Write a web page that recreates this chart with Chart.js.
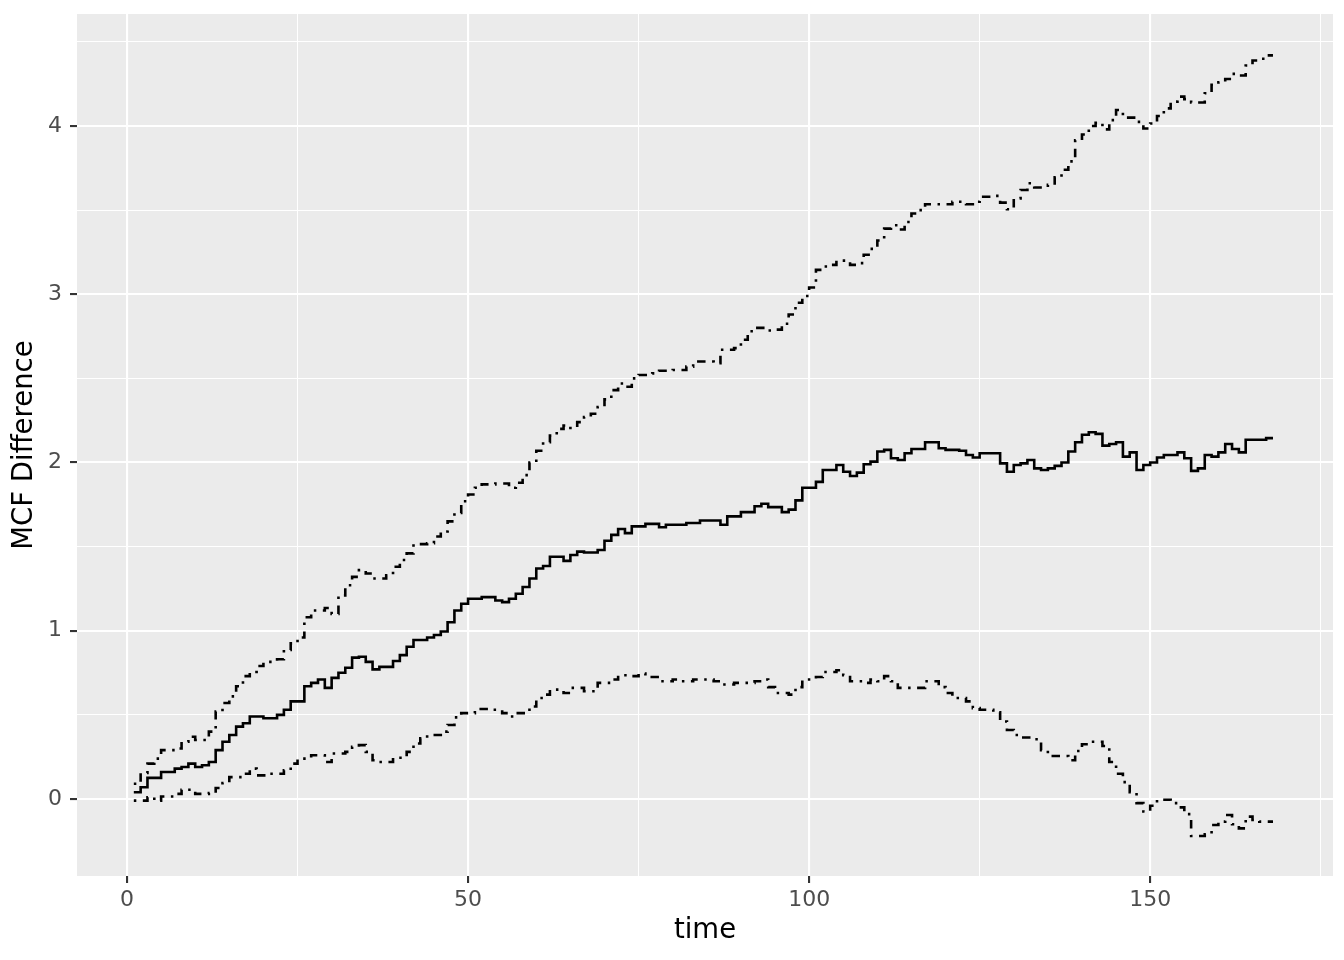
<!DOCTYPE html>
<html>
<head>
<meta charset="utf-8">
<script src="https://cdn.jsdelivr.net/npm/chart.js@4.4.1/dist/chart.umd.min.js"></script>
<style>
  html, body { margin: 0; padding: 0; background: #ffffff; }
  #wrap { width: 1344px; height: 960px; }
</style>
</head>
<body>
<div id="wrap"><canvas id="mcf"></canvas></div>
<script>
// MCF difference (centre estimate), step times and values
var centreTime = [1,2,3,5,7,8,9,10,11,12,13,14,15,16,17,18,20,22,23,24,
    26,27,28,29,30,31,32,33,34,35,36,37,39,40,41,42,44,45,46,47,
    48,49,50,52,54,55,56,57,58,59,60,61,62,64,65,66,67,69,70,71,
    72,73,74,76,78,79,82,84,87,88,90,92,93,94,96,97,98,99,101,102,
    104,105,106,107,108,109,110,111,112,113,114,115,117,119,120,122,123,124,125,128,
    129,130,131,132,133,134,135,136,137,138,139,140,141,142,143,144,145,146,147,148,
    149,150,151,152,154,155,156,157,158,159,160,161,162,163,164,167,168];
var centreValue = [0.04,0.07,0.125,0.16,0.18,0.19,0.21,0.19,0.20,0.22,0.29,0.34,0.38,0.43,0.45,0.49,0.48,0.50,0.53,0.58,
    0.67,0.69,0.71,0.66,0.72,0.75,0.78,0.84,0.845,0.815,0.77,0.785,0.82,0.855,0.905,0.945,0.96,0.975,0.995,1.05,
    1.12,1.16,1.19,1.20,1.18,1.17,1.19,1.22,1.26,1.31,1.37,1.385,1.44,1.415,1.45,1.47,1.465,1.48,1.535,1.57,
    1.605,1.58,1.62,1.635,1.615,1.63,1.64,1.655,1.63,1.68,1.705,1.74,1.755,1.735,1.705,1.72,1.775,1.85,1.885,1.955,
    1.985,1.945,1.92,1.94,1.99,2.005,2.065,2.075,2.025,2.015,2.055,2.08,2.12,2.085,2.075,2.07,2.045,2.03,2.055,1.995,
    1.945,1.985,1.995,2.015,1.965,1.955,1.965,1.98,2.0,2.065,2.12,2.165,2.18,2.17,2.10,2.11,2.12,2.035,2.06,1.955,
    1.985,2.0,2.03,2.045,2.06,2.025,1.95,1.965,2.045,2.035,2.06,2.11,2.08,2.06,2.135,2.145,2.145];

// upper confidence limit
var upperTime = [1,2,3,4,5,7,8,9,10,12,13,14,15,16,17,18,19,20,22,23,
    24,25,26,27,29,30,31,32,33,34,35,36,38,39,40,41,42,44,45,46,
    47,48,49,50,51,52,54,56,57,58,59,60,61,62,63,64,65,66,67,68,
    69,70,71,72,73,74,75,77,78,80,82,83,86,87,89,90,91,92,94,95,
    96,97,98,99,100,101,102,103,104,106,107,108,109,110,111,112,113,114,115,116,
    117,121,123,124,125,127,128,129,130,131,132,133,135,136,137,138,139,140,141,142,
    143,144,145,146,148,149,150,151,152,153,154,155,156,158,159,160,161,162,163,164,
    165,166,167,168];
var upperValue = [0.09,0.155,0.21,0.24,0.29,0.30,0.34,0.37,0.35,0.40,0.52,0.57,0.61,0.67,0.73,0.755,0.79,0.815,0.83,0.885,
    0.925,0.96,1.08,1.12,1.135,1.10,1.21,1.27,1.32,1.36,1.34,1.31,1.33,1.38,1.42,1.46,1.515,1.52,1.56,1.59,
    1.65,1.70,1.77,1.81,1.85,1.87,1.875,1.85,1.88,1.925,2.0,2.07,2.12,2.16,2.2,2.22,2.205,2.24,2.27,2.29,
    2.33,2.375,2.43,2.47,2.45,2.50,2.52,2.53,2.545,2.55,2.57,2.60,2.59,2.67,2.68,2.73,2.78,2.80,2.785,2.79,
    2.825,2.88,2.95,2.99,3.04,3.145,3.165,3.175,3.20,3.175,3.185,3.235,3.27,3.32,3.39,3.41,3.385,3.43,3.48,3.50,
    3.535,3.55,3.535,3.55,3.58,3.585,3.545,3.505,3.57,3.62,3.66,3.635,3.65,3.695,3.74,3.79,3.915,3.95,4.0,4.02,
    3.98,4.035,4.095,4.05,4.025,3.985,4.015,4.06,4.105,4.145,4.175,4.16,4.14,4.195,4.245,4.26,4.28,4.31,4.30,4.36,
    4.39,4.40,4.42,4.42];

// lower confidence limit
var lowerTime = [1,3,4,5,7,8,10,12,13,14,15,17,18,19,21,23,24,25,27,29,
    30,32,33,34,35,36,37,39,41,42,43,44,46,47,48,49,51,53,55,56,
    57,59,60,61,62,64,65,67,69,71,72,74,75,76,78,80,81,83,86,87,
    89,92,93,94,95,97,98,99,101,102,104,105,106,108,109,110,111,112,113,117,
    119,120,121,123,124,125,127,128,129,130,131,133,134,135,138,139,140,141,143,144,
    145,146,147,148,149,150,151,153,154,155,156,158,159,160,161,162,163,164,165,166,
    168];
var lowerValue = [-0.01,0.01,-0.01,0.015,0.03,0.055,0.03,0.035,0.065,0.095,0.13,0.15,0.18,0.14,0.15,0.17,0.21,0.24,0.26,0.22,
    0.27,0.28,0.31,0.32,0.28,0.23,0.22,0.245,0.28,0.33,0.36,0.38,0.40,0.44,0.485,0.51,0.535,0.53,0.51,0.49,
    0.51,0.55,0.60,0.62,0.65,0.63,0.66,0.64,0.69,0.71,0.735,0.73,0.745,0.725,0.70,0.71,0.70,0.71,0.70,0.68,
    0.69,0.70,0.71,0.665,0.63,0.62,0.665,0.71,0.725,0.755,0.765,0.735,0.70,0.69,0.71,0.70,0.73,0.70,0.66,0.70,
    0.665,0.63,0.60,0.58,0.54,0.53,0.515,0.46,0.41,0.38,0.365,0.355,0.29,0.255,0.23,0.285,0.325,0.34,0.315,0.22,
    0.15,0.10,0.04,-0.025,-0.075,-0.04,-0.005,-0.025,-0.05,-0.09,-0.22,-0.21,-0.155,-0.135,-0.095,-0.15,-0.175,-0.105,-0.125,-0.135,
    -0.135];

var xTicksMajor = [0, 50, 100, 150];
var yTicksMajor = [0, 1, 2, 3, 4];

function toPoints(xs, ys) {
    var pts = [];
    for (var i = 0; i < xs.length; i++) pts.push({x: xs[i], y: ys[i]});
    return pts;
}

var dotDash = [2.5, 6.5, 8.5, 6.5];

var panelBackground = {
    id: 'panelBackground',
    beforeDraw: function(chart) {
        var a = chart.chartArea;
        var ctx = chart.ctx;
        ctx.save();
        ctx.fillStyle = '#EBEBEB';
        ctx.fillRect(a.left, a.top, a.right - a.left, a.bottom - a.top);
        ctx.restore();
    }
};

function isMajor(list, v) {
    for (var i = 0; i < list.length; i++) {
        if (Math.abs(list[i] - v) < 1e-9) return true;
    }
    return false;
}

function gridFor(list) {
    return {
        color: '#FFFFFF',
        lineWidth: function(c) { return c.tick && isMajor(list, c.tick.value) ? 2.1 : 1.05; },
        drawTicks: true,
        tickLength: 7,
        tickWidth: 2.1,
        tickColor: function(c) { return c.tick && isMajor(list, c.tick.value) ? '#333333' : 'rgba(0,0,0,0)'; }
    };
}

new Chart(document.getElementById('mcf'), {
    type: 'line',
    data: {
        datasets: [
            {
                label: 'upper',
                data: toPoints(upperTime, upperValue),
                borderColor: '#000000',
                borderWidth: 2.6,
                borderDash: dotDash,
                borderCapStyle: 'butt',
                stepped: 'before',
                pointRadius: 0,
                fill: false
            }, {
                label: 'MCF difference',
                data: toPoints(centreTime, centreValue),
                borderColor: '#000000',
                borderWidth: 2.6,
                stepped: 'before',
                pointRadius: 0,
                fill: false
            }, {
                label: 'lower',
                data: toPoints(lowerTime, lowerValue),
                borderColor: '#000000',
                borderWidth: 2.6,
                borderDash: dotDash,
                borderCapStyle: 'butt',
                stepped: 'before',
                pointRadius: 0,
                fill: false
            }
        ]
    },
    options: {
        responsive: true,
        maintainAspectRatio: false,
        devicePixelRatio: 1,
        animation: false,
        layout: { padding: { left: 0, right: 11, top: 14, bottom: 0 } },
        plugins: {
            legend: { display: false },
            tooltip: { enabled: false }
        },
        scales: {
            x: {
                type: 'linear',
                min: -7.33,
                max: 176.8,
                border: { display: false },
                grid: gridFor(xTicksMajor),
                ticks: {
                    stepSize: 25,
                    includeBounds: false,
                    autoSkip: false,
                    maxRotation: 0,
                    padding: 4,
                    color: '#4D4D4D',
                    font: { family: 'DejaVu Sans', size: 22 },
                    callback: function(v) { return isMajor(xTicksMajor, v) ? String(v) : ''; }
                },
                title: {
                    display: true,
                    text: 'time',
                    color: '#000000',
                    font: { family: 'DejaVu Sans', size: 27.5 },
                    padding: { top: 0, bottom: 13 }
                },
                afterFit: function(scale) {
                    scale.height = 84;
                    scale.paddingLeft = 0;
                    scale.paddingRight = 0;
                }
            },
            y: {
                type: 'linear',
                min: -0.458,
                max: 4.666,
                border: { display: false },
                grid: gridFor(yTicksMajor),
                ticks: {
                    stepSize: 0.5,
                    includeBounds: false,
                    autoSkip: false,
                    padding: 8,
                    color: '#4D4D4D',
                    font: { family: 'DejaVu Sans', size: 22 },
                    callback: function(v) { return isMajor(yTicksMajor, v) ? String(v) : ''; }
                },
                title: {
                    display: true,
                    text: 'MCF Difference',
                    color: '#000000',
                    font: { family: 'DejaVu Sans', size: 27.5 },
                    padding: { top: 8.3, bottom: 0 }
                },
                afterFit: function(scale) {
                    scale.width = 77;
                    scale.paddingTop = 0;
                    scale.paddingBottom = 0;
                }
            }
        }
    },
    plugins: [panelBackground]
});
</script>
</body>
</html>
